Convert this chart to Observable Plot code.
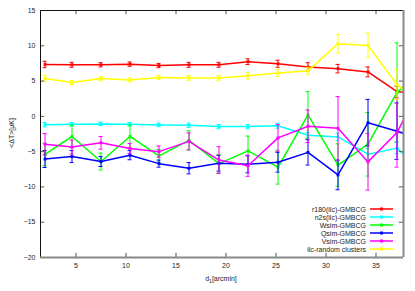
<!DOCTYPE html>
<html><head><meta charset="utf-8">
<script src="https://cdn.jsdelivr.net/npm/d3@7"></script>
<script src="https://cdn.jsdelivr.net/npm/@observablehq/plot@0.6"></script>
<style>body{margin:0;background:#fff} svg{display:block}</style>
</head><body><div id="chart"></div>
<script>
// bin centres in arcmin (last one lies beyond the plotted range and is clipped)
const xs = [1.9, 4.6, 7.5, 10.4, 13.3, 16.3, 19.3, 22.2, 25.2, 28.2, 31.2, 34.2, 37.1, 40.1];

const seriesNames = ["r180(ilc)-GMBCG", "n2s(ilc)-GMBCG", "Wsim-GMBCG", "Qsim-GMBCG", "Vsim-GMBCG", "ilc-random clusters"];
const seriesColors = ["#ff0000", "#00ffff", "#00ff00", "#0000ff", "#ff00ff", "#ffff00"];

const r180 =     [7.35, 7.3, 7.3, 7.4, 7.2, 7.3, 7.3, 7.75, 7.45, 7.0, 6.76, 6.3, 3.5, 3.2];
const r180Err =  [0.45, 0.35, 0.3, 0.3, 0.3, 0.35, 0.35, 0.4, 0.5, 0.6, 0.6, 0.7, 0.8, 0.8];
const n2s =      [-1.2, -1.12, -1.07, -1.12, -1.22, -1.26, -1.45, -1.45, -1.33, -2.67, -2.91, -5.36, -4.5, -8.5];
const n2sErr =   [0.3, 0.25, 0.25, 0.25, 0.25, 0.3, 0.3, 0.3, 0.35, 0.4, 0.5, 0.8, 0.8, 0.8];
const wsim =     [-5.4, -2.85, -6.4, -2.85, -5.6, -3.4, -6.7, -4.9, -7.2, 0.2, -6.9, -3.95, 3.4, 7];
const wsimErr =  [1.6, 1.6, 1.2, 1.6, 0.9, 1.35, 1.3, 2.1, 2.4, 3.3, 3.0, 4.5, 7, 7];
const qsim =     [-6.05, -5.7, -6.4, -5.5, -6.7, -7.35, -6.65, -6.8, -6.5, -5.1, -8.3, -0.9, -2.1, -3.5];
const qsimErr =  [1.2, 0.85, 0.7, 0.65, 0.5, 0.8, 1.1, 1.2, 1.4, 1.8, 2.1, 3.3, 4, 4];
const vsim =     [-3.95, -4.35, -3.75, -4.55, -5.0, -3.55, -6.2, -7.0, -3.05, -1.4, -1.7, -6.45, -2.3, 6];
const vsimErr =  [1.5, 1.0, 0.9, 0.7, 0.8, 1.2, 1.9, 1.5, 1.9, 2.3, 4.5, 4.0, 4.9, 5];
const ilcRand =  [5.35, 4.8, 5.35, 5.15, 5.5, 5.45, 5.45, 5.75, 6.15, 6.45, 10.3, 10.05, 4.5, 1];
const ilcRandErr=[0.45, 0.3, 0.3, 0.3, 0.3, 0.35, 0.35, 0.45, 0.5, 0.5, 1.3, 1.75, 2.1, 2];

const xTicks = [5, 10, 15, 20, 25, 30, 35];
const yTicks = [15, 10, 5, 0, -5, -10, -15, -20];

const values = [r180, n2s, wsim, qsim, vsim, ilcRand];
const errors = [r180Err, n2sErr, wsimErr, qsimErr, vsimErr, ilcRandErr];

const xDomain = [1.45, 37.75];
const yDomain = [-20, 15];

const marks = [];
seriesNames.forEach((name, si) => {
  const color = seriesColors[si];
  const data = xs.map((x, i) => ({x, y: values[si][i], e: errors[si][i]}));
  const inRange = data.filter(d => d.x <= xDomain[1]);
  marks.push(Plot.line(data, {x: "x", y: "y", stroke: color, strokeWidth: 1.5, clip: true}));
  marks.push(Plot.ruleX(inRange, {x: "x", y1: d => d.y - d.e, y2: d => d.y + d.e, stroke: color, strokeWidth: 1, clip: true}));
  marks.push(Plot.ruleY(inRange, {y: d => d.y + d.e, x1: d => d.x - 0.2, x2: d => d.x + 0.2, stroke: color, strokeWidth: 1, clip: true}));
  marks.push(Plot.ruleY(inRange, {y: d => d.y - d.e, x1: d => d.x - 0.2, x2: d => d.x + 0.2, stroke: color, strokeWidth: 1, clip: true}));
  marks.push(Plot.dot(inRange, {x: "x", y: "y", symbol: "square", r: 1.6, fill: color, clip: true}));
});

// inward tick marks on all four sides
const tx = 0.42, ty = 0.6;
marks.push(Plot.ruleY(yTicks, {y: d => d, x1: xDomain[0], x2: xDomain[0] + tx, stroke: "#555"}));
marks.push(Plot.ruleY(yTicks, {y: d => d, x1: xDomain[1] - tx, x2: xDomain[1], stroke: "#555"}));
marks.push(Plot.ruleX(xTicks, {x: d => d, y1: yDomain[0], y2: yDomain[0] + ty, stroke: "#555"}));
marks.push(Plot.ruleX(xTicks, {x: d => d, y1: yDomain[1] - ty, y2: yDomain[1], stroke: "#555"}));

// border
marks.push(Plot.ruleX([xDomain[0]], {stroke: "#111", strokeWidth: 1}));
marks.push(Plot.ruleY([yDomain[1]], {stroke: "#111", strokeWidth: 1}));
marks.push(Plot.ruleX([xDomain[1]], {stroke: "#888", strokeWidth: 2}));
marks.push(Plot.ruleY([yDomain[0]], {stroke: "#888", strokeWidth: 2}));

marks.push(Plot.axisX(xTicks, {tickSize: 0, tickPadding: 6, label: null}));
marks.push(Plot.axisY(yTicks, {tickSize: 0, tickPadding: 5, label: null}));

const plot = Plot.plot({
  width: 415,
  height: 291,
  marginLeft: 40,
  marginRight: 12,
  marginTop: 10,
  marginBottom: 34,
  x: {domain: xDomain},
  y: {domain: yDomain},
  style: {fontFamily: "'Liberation Sans', Arial, sans-serif", fontSize: "7px", color: "#222", background: "#fff"},
  marks
});

const svg = d3.select(plot);
// axis labels
const xl = svg.append("text").attr("x", 221).attr("y", 281).attr("text-anchor", "middle")
  .attr("font-size", 7).attr("fill", "#222");
xl.append("tspan").text("d");
xl.append("tspan").attr("font-size", 5).attr("dy", 2).text("1");
xl.append("tspan").attr("dy", -2).text("[arcmin]");
svg.append("text").attr("transform", "translate(14,133) rotate(-90)").attr("text-anchor", "middle")
  .attr("font-size", 7).attr("fill", "#222").text("<ΔT>[μK]");

// legend
seriesNames.forEach((name, i) => {
  const y = 209 + 8 * i;
  svg.append("text").attr("x", 366).attr("y", y + 2.5).attr("text-anchor", "end")
    .attr("font-size", 7).attr("fill", "#222").text(name);
  svg.append("line").attr("x1", 370).attr("x2", 393).attr("y1", y).attr("y2", y)
    .attr("stroke", seriesColors[i]).attr("stroke-width", 1.5);
  svg.append("rect").attr("x", 380).attr("y", y - 1.5).attr("width", 3).attr("height", 3)
    .attr("fill", seriesColors[i]);
});

document.getElementById("chart").appendChild(plot);
</script>
</body></html>
